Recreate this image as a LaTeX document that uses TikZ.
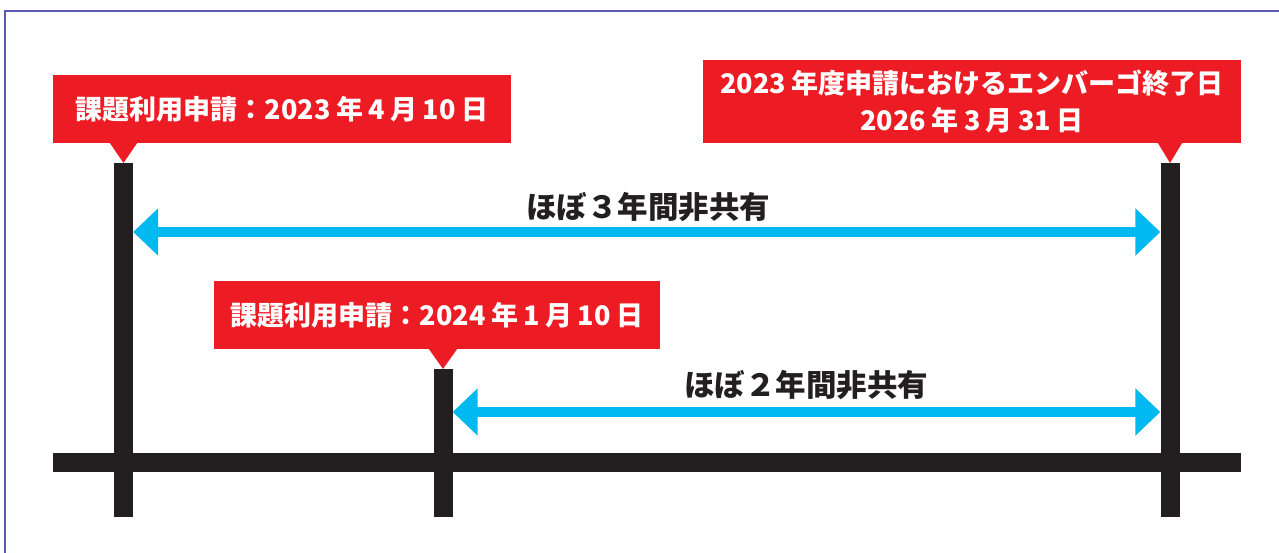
\documentclass[tikz,border=0pt]{standalone}
\usepackage{fontspec}
\setmainfont{Noto Sans CJK JP}
\usetikzlibrary{arrows.meta,calc}
\definecolor{cred}{HTML}{ED1C24}
\definecolor{cbar}{HTML}{231F20}
\definecolor{ccyan}{HTML}{00B9F1}
\definecolor{cframe}{HTML}{5A5AAE}
\newcommand\ksp{\hspace{0.2em}}
\begin{document}
\begin{tikzpicture}[x=1pt,y=-1pt,
  vbar/.style={fill=cbar, draw=none, inner sep=0pt, minimum width=19pt, anchor=north},
  hbarstyle/.style={fill=cbar, draw=none, inner sep=0pt, minimum height=19pt},
  callout/.style={fill=cred, draw=none, inner sep=0pt, text=white, align=center,
    font=\fontsize{27}{37}\selectfont\bfseries},
  pointer/.style={fill=cred, draw=none},
  arr/.style={ccyan, line width=10pt,
    {Triangle[length=25pt,width=46pt]}-{Triangle[length=25pt,width=46pt]}},
  lbl/.style={text=cbar, inner sep=0pt, font=\fontsize{30.5}{34}\selectfont\bfseries}]
\useasboundingbox (0,0) rectangle (1279,553);
\draw[cframe, line width=1.5pt] (5,553) -- (5,11) -- (1279,11);

% bars
\node[hbarstyle, minimum width=1188pt] (hb) at (647,462.5) {};
\node[vbar, minimum height=354pt] (b1) at (123.5,163) {};
\node[vbar, minimum height=148pt] (b2) at (443,369) {};
\node[vbar, minimum height=354pt] (b3) at (1170,163) {};

% callouts
\node[callout, minimum width=458pt, minimum height=68pt] (c1) at (282,109)
  {課題利用申請：2023\ksp 年\ksp 4\ksp 月\ksp 10\ksp 日};
\node[callout, minimum width=538pt, minimum height=83pt] (c2) at (972,101.5)
  {2023\ksp 年度申請におけるエンバーゴ終了日\\2026\ksp 年\ksp 3\ksp 月\ksp 31\ksp 日};
\node[callout, minimum width=446pt, minimum height=68pt] (c3) at (437,315)
  {課題利用申請：2024\ksp 年\ksp 1\ksp 月\ksp 10\ksp 日};

\fill[pointer] ($(c1.south -| b1.north)+(-13.5,0)$) -- ($(c1.south -| b1.north)+(13.5,0)$) -- (b1.north) -- cycle;
\fill[pointer] ($(c2.south -| b3.north)+(-12,0)$) -- ($(c2.south -| b3.north)+(12,0)$) -- (b3.north) -- cycle;
\fill[pointer] ($(c3.south -| b2.north)+(-14,0)$) -- ($(c3.south -| b2.north)+(14,0)$) -- (b2.north) -- cycle;

% arrows
\coordinate (y1) at (0,232);
\coordinate (y2) at (0,412);
\draw[arr] (b1.east |- y1) -- (b3.west |- y1);
\draw[arr] (b2.east |- y2) -- (b3.west |- y2);

\node[lbl] (l1) at (648,207) {ほぼ３年間非共有};
\node[lbl] (l2) at (806,385) {ほぼ２年間非共有};
\end{tikzpicture}
\end{document}
